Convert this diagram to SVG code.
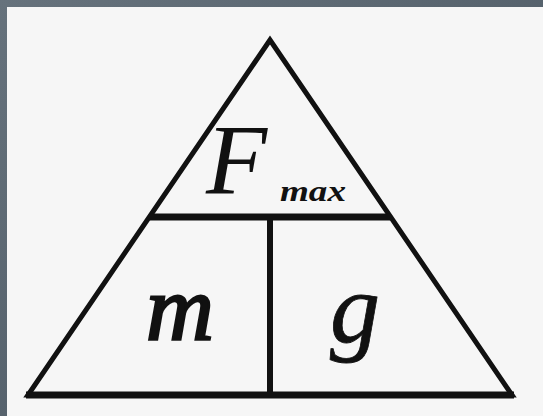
<svg xmlns="http://www.w3.org/2000/svg" width="543" height="416" viewBox="0 0 543 416">
  <defs>
    <linearGradient id="frame" x1="0" y1="0" x2="1" y2="1">
      <stop offset="0" stop-color="#66727c"/>
      <stop offset="1" stop-color="#47535e"/>
    </linearGradient>
  </defs>
  <style>
    .ln { stroke: #111; fill: none; stroke-linejoin: miter; stroke-linecap: butt; }
    .sym { font-family: "Liberation Serif", "Times New Roman", serif; font-style: italic; fill: #111; }
  </style>
  <rect x="0" y="0" width="543" height="416" fill="url(#frame)"/>
  <rect x="7" y="7" width="536" height="409" fill="#f6f6f6"/>
  <g id="connectors">
    <polygon class="ln" points="270,40 28,395 512,395" stroke-width="5"/>
    <line class="ln" x1="26" y1="395" x2="514" y2="395" stroke-width="7"/>
    <line class="ln" x1="150" y1="217" x2="390" y2="217" stroke-width="7"/>
    <line class="ln" x1="270" y1="217" x2="270" y2="395" stroke-width="6"/>
  </g>
  <g id="node-F">
    <text class="sym" x="206" y="193" font-size="100">F</text>
    <text class="sym" x="280" y="201" font-size="30" font-weight="bold" textLength="66" lengthAdjust="spacingAndGlyphs">max</text>
  </g>
  <g id="node-m">
    <text class="sym" x="146" y="340" font-size="94" stroke="#111" stroke-width="2.5">m</text>
  </g>
  <g id="node-g">
    <text class="sym" x="330" y="342" font-size="100" stroke="#111" stroke-width="0.8">g</text>
  </g>
</svg>
